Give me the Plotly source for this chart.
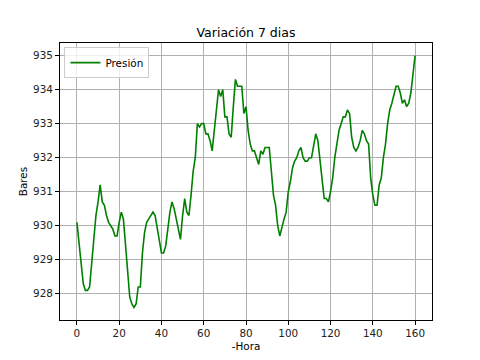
import plotly.graph_objects as go

horas = list(range(0, 161))
presion = [
    930.1, 929.5, 928.8, 928.3, 928.1, 928.1, 928.2, 928.9, 929.6, 930.3,
    930.7, 931.2, 930.7, 930.6, 930.3, 930.1, 930.0, 929.9, 929.7, 929.7,
    930.1, 930.4, 930.2, 929.5, 928.6, 927.9, 927.7, 927.6, 927.7, 928.2,
    928.2, 929.2, 929.8, 930.1, 930.2, 930.3, 930.4, 930.3, 929.9, 929.5,
    929.2, 929.2, 929.4, 929.9, 930.4, 930.7, 930.5, 930.2, 929.9, 929.6,
    930.3, 930.8, 930.4, 930.3, 930.9, 931.6, 932.0, 933.0, 932.9, 933.0,
    933.0, 932.7, 932.7, 932.5, 932.2, 932.8, 933.3, 934.0, 933.8, 934.0,
    933.2, 933.2, 932.7, 932.6, 933.5, 934.3, 934.1, 934.1, 934.1, 933.3,
    933.5, 932.8, 932.4, 932.2, 932.2, 932.0, 931.8, 932.2, 932.1, 932.3,
    932.3, 932.3, 931.6, 930.9, 930.6, 930.0, 929.7, 930.0, 930.2, 930.4,
    931.0, 931.3, 931.7, 931.9, 932.0, 932.2, 932.3, 932.0, 931.9, 931.9,
    932.0, 932.0, 932.4, 932.7, 932.5, 931.9, 931.2, 930.8, 930.8, 930.7,
    931.0, 931.4, 932.0, 932.4, 932.8, 933.0, 933.2, 933.2, 933.4, 933.3,
    932.6, 932.3, 932.2, 932.3, 932.5, 932.8, 932.7, 932.5, 932.4, 931.4,
    930.9, 930.6, 930.6, 931.2, 931.4, 932.0, 932.4, 933.0, 933.4, 933.6,
    933.9, 934.1, 934.1, 933.9, 933.6, 933.7, 933.5, 933.6, 933.9, 934.4,
    935.0,
]

x_ticks = [0, 20, 40, 60, 80, 100, 120, 140, 160]
y_ticks = [928, 929, 930, 931, 932, 933, 934, 935]

font = "DejaVu Sans"

fig = go.Figure()
fig.add_trace(go.Scatter(
    x=horas, y=presion, mode="lines", name="Presión",
    line=dict(color="#008000", width=1.6),
))

axis_common = dict(
    showgrid=True, gridcolor="#b0b0b0", gridwidth=0.8,
    showline=True, linecolor="black", linewidth=1, mirror=True,
    ticks="outside", ticklen=4, tickcolor="black", tickwidth=1,
    zeroline=False, automargin=False,
    tickfont=dict(family=font, size=10.4, color="#222"),
)

xmin, xmax = min(horas), max(horas)
ymin, ymax = min(presion), max(presion)
xm = (xmax - xmin) * 0.05
ym = (ymax - ymin) * 0.05

fig.update_layout(
    width=480, height=360,
    margin=dict(l=60, r=48, t=43, b=40, autoexpand=False),
    paper_bgcolor="white", plot_bgcolor="white",
    font=dict(family=font, color="black"),
    title=dict(text="Variación 7 dias", x=0.5, xref="paper", xanchor="center",
               y=0.908, yref="container", yanchor="middle",
               font=dict(family=font, size=12.5, color="black")),
    xaxis=dict(range=[xmin - xm, xmax + xm], tickvals=x_ticks,
               title=dict(text="-Hora", font=dict(family=font, size=10.4), standoff=4),
               **axis_common),
    yaxis=dict(range=[ymin - ym, ymax + ym], tickvals=y_ticks,
               title=dict(text="Bares", font=dict(family=font, size=10.4), standoff=3),
               **axis_common),
    showlegend=True,
    legend=dict(x=0.012, y=0.985, xanchor="left", yanchor="top",
                bgcolor="rgba(255,255,255,0.8)", bordercolor="#cccccc", borderwidth=1,
                font=dict(family=font, size=10.4, color="black"),
                itemwidth=30, tracegroupgap=0),
)

fig.write_html("out.html", config={"displayModeBar": False},
               post_script="document.body.style.margin='0';")
